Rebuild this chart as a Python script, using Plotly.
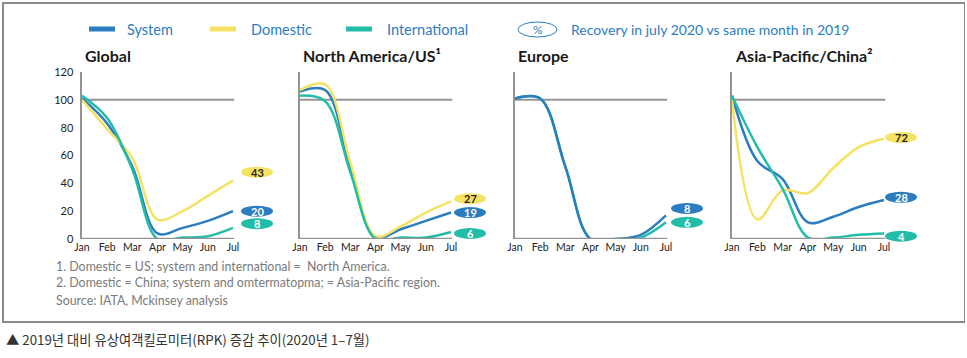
import plotly.graph_objects as go

W, H = 967, 358

months = ["Jan", "Feb", "Mar", "Apr", "May", "Jun", "Jul"]
panels = ["Global", "North America/US¹", "Europe", "Asia-Pacific/China²"]
series_names = ["System", "Domestic", "International"]

# values (index vs same month 2019)
global_system = [101, 83, 52, 4, 8, 13, 20]
global_domestic = [100, 79, 58, 14, 20, 31, 42]
global_international = [103, 87, 50, 0, 1, 2, 8]

na_system = [106, 107, 51, 1, 7, 13, 19]
na_domestic = [107, 111, 55, 2, 9, 19, 27]
na_international = [103, 99, 48, 0, 1, 1, 5]

eu_system = [101, 101, 52, 0, 0, 3, 17]
eu_international = [101, 101, 52, 0, 0, 1, 12]

ap_system = [103, 56, 43, 12, 16, 23, 28]
ap_domestic = [100, 14, 35, 33, 51, 66, 72]
ap_international = [103, 66, 36, 1, 1, 3, 4]

# recovery labels: text and vertical placement (value units)
global_labels = ["43", "20", "8"]
global_label_y = [48, 20, 11]
na_labels = ["27", "19", "6"]
na_label_y = [29, 19, 4]
eu_labels = ["8", "6"]
eu_label_y = [22, 12]
ap_labels = ["72", "28", "4"]
ap_label_y = [73, 30, 2]

y_ticks = [0, 20, 40, 60, 80, 100, 120]

BLUE = "#2c7dbf"
YELLOW = "#f6e262"
TEAL = "#22bda8"
GREY = "#949494"
colors = {"System": BLUE, "Domestic": YELLOW, "International": TEAL}
FONT = "Lato"

panel_data = [
    ([("System", global_system), ("Domestic", global_domestic), ("International", global_international)],
     [("Domestic", global_labels[0], global_label_y[0]), ("System", global_labels[1], global_label_y[1]),
      ("International", global_labels[2], global_label_y[2])]),
    ([("System", na_system), ("Domestic", na_domestic), ("International", na_international)],
     [("Domestic", na_labels[0], na_label_y[0]), ("System", na_labels[1], na_label_y[1]),
      ("International", na_labels[2], na_label_y[2])]),
    ([("International", eu_international), ("System", eu_system)],
     [("System", eu_labels[0], eu_label_y[0]), ("International", eu_labels[1], eu_label_y[1])]),
    ([("System", ap_system), ("Domestic", ap_domestic), ("International", ap_international)],
     [("Domestic", ap_labels[0], ap_label_y[0]), ("System", ap_labels[1], ap_label_y[1]),
      ("International", ap_labels[2], ap_label_y[2])]),
]

# pixel layout of panels: (left axis px, Jul px), label centre offset px
px_x = [(82, 233), (300, 451), (515, 666), (732, 884)]
label_dx = [24, 19, 21, 17]
py_bottom, py_top = 239, 72
XMAX = 6.08


def px(x):
    return x / W


def py(y):
    return 1 - y / H


fig = go.Figure()
layout = dict(
    template="none",
    width=W, height=H, margin=dict(l=0, r=0, t=0, b=0, pad=0, autoexpand=False),
    paper_bgcolor="white", plot_bgcolor="rgba(0,0,0,0)", showlegend=False,
    font=dict(family=FONT, color="#222"),
)
shapes = []
annotations = []
xs = list(range(len(months)))

# outer frame drawn as a mirrored, empty axis box
fx0, fx1, fy0, fy1 = 3.5, 963.5, 3.5, 321
layout["xaxis5"] = dict(domain=[px(fx0), px(fx1)], range=[0, 1], anchor="y5", showline=True, mirror=True,
                        linecolor="#8a8a8a", linewidth=1.5, showgrid=False, zeroline=False,
                        showticklabels=False, ticks="", automargin=False, fixedrange=True)
layout["yaxis5"] = dict(domain=[py(fy1), py(fy0)], range=[0, 1], anchor="x5", showline=True, mirror=True,
                        linecolor="#8a8a8a", linewidth=1.5, showgrid=False, zeroline=False,
                        showticklabels=False, ticks="", automargin=False, fixedrange=True)
fig.add_trace(go.Scatter(x=[], y=[], xaxis="x5", yaxis="y5", hoverinfo="skip"))

# label layer: same value scale as the panels, with room below zero so the ovals are not cut
lab_bottom = 252
units_per_px = 120.0 / (py_bottom - py_top)
layout["xaxis6"] = dict(domain=[0, 1], range=[0, W], anchor="y6", visible=False, fixedrange=True)
layout["yaxis6"] = dict(domain=[py(lab_bottom), py(py_top)],
                        range=[-(lab_bottom - py_bottom) * units_per_px, 120],
                        anchor="x6", visible=False, fixedrange=True)
fig.add_trace(go.Scatter(x=[], y=[], xaxis="x6", yaxis="y6", hoverinfo="skip"))

for i, (lines, labels) in enumerate(panel_data):
    n = "" if i == 0 else str(i + 1)
    xa, ya = "x" + n, "y" + n
    x0p, x1p = px_x[i]
    unit = (x1p - x0p) / 6.0
    layout["xaxis" + n] = dict(
        domain=[px(x0p), px(x0p + unit * XMAX)], range=[0, XMAX], anchor=ya, automargin=False,
        showline=False, showgrid=False, zeroline=False, fixedrange=True,
        tickvals=xs, ticktext=months, ticks="", tickfont=dict(size=10.5, color="#222", family=FONT),
    )
    layout["yaxis" + n] = dict(
        domain=[py(py_bottom), py(py_top)], range=[0, 120], anchor=xa, automargin=False,
        showline=True, linecolor=GREY, linewidth=2.5, showgrid=False, zeroline=False, fixedrange=True,
        tickvals=y_ticks, ticks="", showticklabels=(i == 0), ticklabelstandoff=4,
        tickfont=dict(size=11, color="#222", family=FONT),
    )
    # bottom axis line and 100 reference line
    shapes.append(dict(type="line", xref=xa, yref=ya, x0=0, x1=6.05, y0=0, y1=0,
                       line=dict(color=GREY, width=2.5), layer="above"))
    shapes.append(dict(type="line", xref=xa, yref=ya, x0=0, x1=6.05, y0=100, y1=100,
                       line=dict(color=GREY, width=2), layer="below"))
    for name, vals in lines:
        fig.add_trace(go.Scatter(
            x=xs, y=vals, mode="lines", name=name, xaxis=xa, yaxis=ya,
            line=dict(color=colors[name], width=2.5, shape="spline", smoothing=1.0),
            hoverinfo="skip",
        ))
    cx = x1p + label_dx[i]
    for name, text, yv in labels:
        shapes.append(dict(type="circle", xref="x6", yref="y6", ysizemode="pixel",
                           yanchor=yv, x0=cx - 16, x1=cx + 16, y0=-5.5, y1=5.5,
                           fillcolor=colors[name], line=dict(width=0), layer="above"))
        annotations.append(dict(xref="x6", yref="y6", x=cx, y=yv, text="<b>%s</b>" % text,
                                showarrow=False, font=dict(size=11, family=FONT,
                                color="#222" if name == "Domestic" else "white")))
    annotations.append(dict(xref="paper", yref="paper", x=px(x0p + 1), y=py(55), xanchor="left",
                            yanchor="middle", text="<b>%s</b>" % panels[i], showarrow=False,
                            font=dict(size=16, color="#1a1a1a", family=FONT)))

# legend
leg = [(89, 125, "System"), (210, 249, "Domestic"), (346, 385, "International")]
for lx, tx, name in leg:
    shapes.append(dict(type="line", xref="paper", yref="paper", x0=px(lx), x1=px(lx + 26),
                       y0=py(29), y1=py(29), line=dict(color=colors[name], width=5)))
    annotations.append(dict(xref="paper", yref="paper", x=px(tx), y=py(29), xanchor="left",
                            yanchor="middle", text=name, showarrow=False,
                            font=dict(size=14.5, color=BLUE, family=FONT)))
shapes.append(dict(type="circle", xref="paper", yref="paper", x0=px(518), x1=px(557),
                   y0=py(37), y1=py(22), line=dict(color=BLUE, width=1), fillcolor="rgba(0,0,0,0)"))
annotations.append(dict(xref="paper", yref="paper", x=px(537.5), y=py(29.5), xanchor="center",
                        yanchor="middle", text="%",
                        showarrow=False, font=dict(size=12, color=BLUE, family=FONT)))
annotations.append(dict(xref="paper", yref="paper", x=px(569), y=py(29), xanchor="left",
                        yanchor="middle", text="Recovery in july 2020 vs same month in 2019",
                        showarrow=False, font=dict(size=14, color=BLUE, family=FONT)))

# footnotes
notes = [
    (266, "1. Domestic = US; system and international =  North America."),
    (282, "2. Domestic = China; system and omtermatopma; = Asia-Pacific region."),
    (300, "Source: IATA, Mckinsey analysis"),
]
for y, t in notes:
    annotations.append(dict(xref="paper", yref="paper", x=px(54), y=py(y), xanchor="left",
                            yanchor="middle", text=t, showarrow=False,
                            font=dict(size=12.4, color="#7a7a7a", family=FONT)))

# caption
annotations.append(dict(xref="paper", yref="paper", x=px(4), y=py(339), xanchor="left",
                        yanchor="middle", text="▲ 2019년 대비 유상여객킬로미터(RPK) 증감 추이(2020년 1–7월)",
                        showarrow=False, font=dict(size=13.3, color="#333", family="Noto Sans CJK KR")))

layout["shapes"] = shapes
layout["annotations"] = annotations
fig.update_layout(**layout)
fig.write_html("out.html", config={"displayModeBar": False, "staticPlot": True},
               post_script="document.body.style.margin='0';")
